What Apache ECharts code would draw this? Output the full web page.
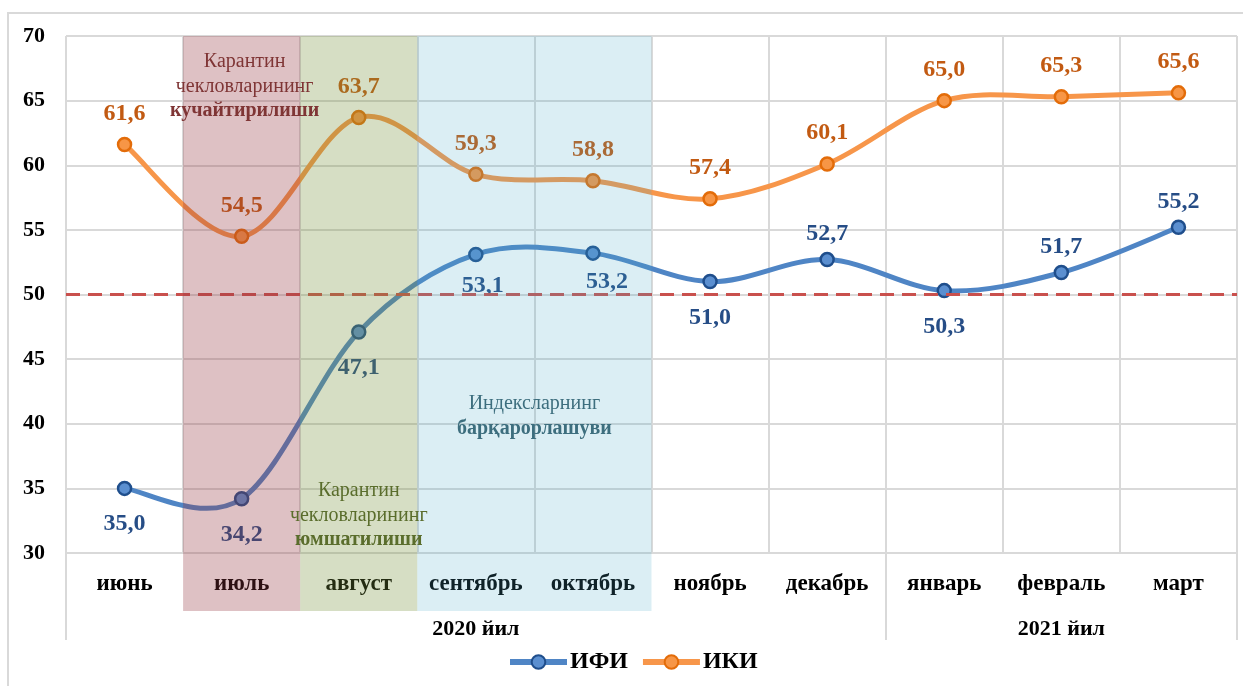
<!DOCTYPE html>
<html>
<head>
<meta charset="utf-8">
<script src="https://cdn.jsdelivr.net/npm/echarts@6/dist/echarts.min.js"></script>
<style>
  html, body { margin: 0; padding: 0; background: #fff; }
  #main { width: 1243px; height: 686px; }
</style>
</head>
<body>
<div id="main"></div>
<script>
  // data
  var months = ['июнь', 'июль', 'август', 'сентябрь', 'октябрь', 'ноябрь', 'декабрь', 'январь', 'февраль', 'март'];
  var ifi = [35.0, 34.2, 47.1, 53.1, 53.2, 51.0, 52.7, 50.3, 51.7, 55.2];
  var iki = [61.6, 54.5, 63.7, 59.3, 58.8, 57.4, 60.1, 65.0, 65.3, 65.6];
  var years = ['2020 йил', '2021 йил'];
  var yearMonths = [7, 3];
  var yTicks = [30, 35, 40, 45, 50, 55, 60, 65, 70];
  var threshold = 50;
  // ИФИ labels: which ones sit under the point
  var ifiLabelPos = ['bottom', 'bottom', 'bottom', 'bottom', 'bottom', 'bottom', 'top', 'bottom', 'top', 'top'];

  var bands = [
    { from: 'июль', to: 'июль', color: 'rgba(150,55,65,0.31)' },
    { from: 'август', to: 'август', color: 'rgba(118,146,60,0.30)' },
    { from: 'сентябрь', to: 'октябрь', color: 'rgba(75,172,198,0.20)' }
  ];

  var FONT = '"Liberation Serif", "Times New Roman", serif';
  var BLUE = '#4f85c5', ORANGE = '#f7964a';

  // year group ticks and label positions on a 0..10 value axis
  var yearTicks = [0];
  var yearMid = [];
  var acc = 0;
  for (var i = 0; i < yearMonths.length; i++) {
    yearMid.push(acc + yearMonths[i] / 2);
    acc += yearMonths[i];
    yearTicks.push(acc);
  }

  // Excel-like smoothed line: one Catmull-Rom segment per point
  function splineSeries(name, values, color) {
    return {
      name: name + ' ',
      type: 'custom',
      z: 2,
      silent: true,
      data: values.map(function (v, k) { return [k, v]; }),
      encode: { x: 0, y: 1 },
      renderItem: function (params, api) {
        var k = params.dataIndex;
        var n = values.length;
        if (k >= n - 1) return null;
        function pt(j) {
          j = Math.max(0, Math.min(n - 1, j));
          return api.coord([j, values[j]]);
        }
        var p0 = pt(k - 1), p1 = pt(k), p2 = pt(k + 1), p3 = pt(k + 2);
        return {
          type: 'bezierCurve',
          shape: {
            x1: p1[0], y1: p1[1], x2: p2[0], y2: p2[1],
            cpx1: p1[0] + (p2[0] - p0[0]) / 6, cpy1: p1[1] + (p2[1] - p0[1]) / 6,
            cpx2: p2[0] - (p3[0] - p1[0]) / 6, cpy2: p2[1] - (p3[1] - p1[1]) / 6
          },
          style: { stroke: color, lineWidth: 5, fill: null, lineCap: 'round' }
        };
      }
    };
  }

  var chart = echarts.init(document.getElementById('main'));

  var labelFmt = function (p) { return p.value.toFixed(1).replace('.', ','); };

  var option = {
    animation: false,
    textStyle: { fontFamily: FONT },
    grid: { left: 66, right: 6, top: 36, bottom: 133 },
    legend: {
      bottom: 7,
      left: 502,
      itemWidth: 57,
      itemHeight: 17,
      itemGap: 12,
      textStyle: { fontFamily: FONT, fontWeight: 'bold', fontSize: 24, color: '#000', padding: [0, 0, 0, -2] },
      data: [
        { name: 'ИФИ', lineStyle: { color: BLUE, width: 6, opacity: 1 } },
        { name: 'ИКИ', lineStyle: { color: ORANGE, width: 6, opacity: 1 } }
      ]
    },
    xAxis: [
      {
        type: 'category',
        data: months,
        boundaryGap: true,
        axisLine: { lineStyle: { color: '#d9d9d9', width: 2 } },
        axisTick: { show: false },
        splitLine: { show: true, interval: 0, lineStyle: { color: '#d9d9d9', width: 2 } },
        axisLabel: { interval: 0, margin: 20, fontFamily: FONT, fontWeight: 'bold', fontSize: 23, color: '#000' }
      },
      {
        type: 'value',
        position: 'bottom',
        min: 0,
        max: months.length,
        axisLine: { show: false },
        splitLine: { show: false },
        axisTick: { show: true, customValues: yearTicks, length: 87, lineStyle: { color: '#d9d9d9', width: 2 } },
        axisLabel: {
          customValues: yearMid,
          margin: 65,
          fontFamily: FONT, fontWeight: 'bold', fontSize: 22, color: '#000',
          formatter: function (v) {
            var k = yearMid.indexOf(v);
            return k >= 0 ? years[k] : '';
          }
        }
      }
    ],
    yAxis: {
      type: 'value',
      min: 30,
      max: 70,
      interval: 5,
      axisLine: { show: false },
      axisTick: { show: false },
      splitLine: { lineStyle: { color: '#d9d9d9', width: 2 } },
      axisLabel: { margin: 21, fontFamily: FONT, fontWeight: 'bold', fontSize: 22, color: '#000',
        formatter: function (v) { return yTicks.indexOf(v) >= 0 ? String(v) : ''; } }
    },
    series: [
      splineSeries('ИФИ', ifi, BLUE),
      splineSeries('ИКИ', iki, ORANGE),
      {
        name: 'ИФИ',
        type: 'line',
        data: ifi.map(function (v, k) {
          var lab = { position: ifiLabelPos[k], distance: ifiLabelPos[k] === 'top' ? 6 : 16 };
          // the two September/October labels sit a bit right and higher
          if (k === 3) lab.offset = [7, -4];
          if (k === 4) lab.offset = [14, -7];
          return { value: v, label: lab };
        }),
        symbol: 'circle',
        symbolSize: 13,
        lineStyle: { color: BLUE, width: 5, opacity: 0 },
        itemStyle: { color: '#5b8fd0', borderColor: '#1f4e8c', borderWidth: 2.5 },
        label: {
          show: true,
          fontFamily: FONT, fontWeight: 'bold', fontSize: 24, color: '#264d86',
          formatter: labelFmt
        },
        markLine: {
          silent: true,
          symbol: 'none',
          label: { show: false },
          lineStyle: { color: '#c9504d', type: [14, 8], width: 3, opacity: 1 },
          data: [{ yAxis: threshold }]
        },
        z: 3
      },
      {
        name: 'ИКИ',
        type: 'line',
        data: iki,
        symbol: 'circle',
        symbolSize: 13,
        lineStyle: { color: ORANGE, width: 5, opacity: 0 },
        itemStyle: { color: '#f79646', borderColor: '#e36c09', borderWidth: 2.5 },
        label: {
          show: true,
          position: 'top',
          distance: 11,
          fontFamily: FONT, fontWeight: 'bold', fontSize: 24, color: '#c25a12',
          formatter: labelFmt
        },
        z: 3
      }
    ]
  };

  chart.setOption(option);

  // overlay bands and their captions, placed through the axes
  function drawOverlay() {
    var c0 = chart.convertToPixel({ xAxisIndex: 0 }, months[0]);
    var c1 = chart.convertToPixel({ xAxisIndex: 0 }, months[1]);
    var step = c1 - c0;
    var yTop = chart.convertToPixel({ yAxisIndex: 0 }, 70);
    var yBot = chart.convertToPixel({ yAxisIndex: 0 }, 30) + 58;
    var els = [];

    bands.forEach(function (b) {
      var xa = chart.convertToPixel({ xAxisIndex: 0 }, b.from) - step / 2;
      var xb = chart.convertToPixel({ xAxisIndex: 0 }, b.to) + step / 2;
      els.push({
        type: 'rect', z: 100, silent: true,
        shape: { x: xa, y: yTop, width: xb - xa, height: yBot - yTop },
        style: { fill: b.color }
      });
    });

    function caption(cx, y, lines, boldLine, color) {
      lines.forEach(function (t, k) {
        els.push({
          type: 'text', z: 101, silent: true,
          x: cx, y: y + k * 24.5,
          style: {
            text: t, fill: color, align: 'center', verticalAlign: 'middle',
            fontFamily: FONT, fontSize: 20, fontWeight: k === boldLine ? 'bold' : 'normal'
          }
        });
      });
    }

    var xJul = chart.convertToPixel({ xAxisIndex: 0 }, 'июль');
    var xAug = chart.convertToPixel({ xAxisIndex: 0 }, 'август');
    var xSep = chart.convertToPixel({ xAxisIndex: 0 }, 'сентябрь');
    caption(xJul + 3, 62, ['Карантин', 'чекловларининг', 'кучайтирилиши'], 2, '#7f3535');
    caption(xAug, 491, ['Карантин', 'чекловларининг', 'юмшатилиши'], 2, '#5a6d2c');
    caption(xSep + step / 2, 404, ['Индексларнинг', 'барқарорлашуви'], 1, '#3d6e7e');

    // outer frame
    els.push({
      type: 'rect', z: 0, silent: true,
      shape: { x: 8, y: 13, width: 1250, height: 700 },
      style: { fill: 'none', stroke: '#d9d9d9', lineWidth: 2 }
    });

    chart.setOption({ graphic: els });
  }
  drawOverlay();
</script>
</body>
</html>
